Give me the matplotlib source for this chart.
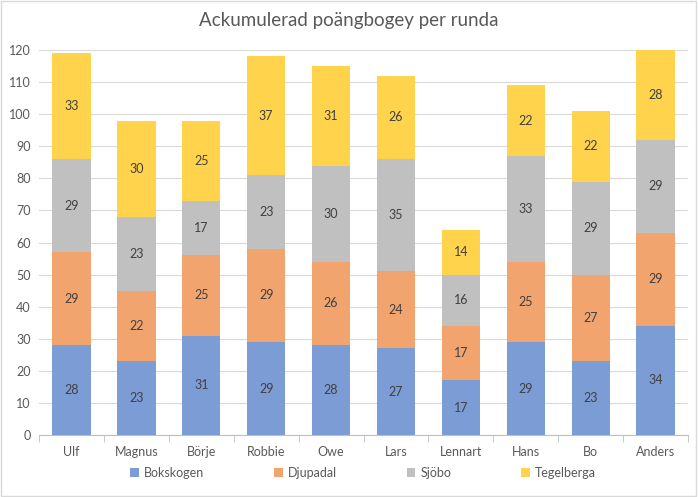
import matplotlib
matplotlib.use("Agg")
import matplotlib.pyplot as plt
import numpy as np
from matplotlib.patches import Rectangle

plt.rcParams['font.family'] = ['Lato', 'DejaVu Sans']

players = ["Ulf", "Magnus", "Börje", "Robbie", "Owe", "Lars", "Lennart", "Hans", "Bo", "Anders"]
bokskogen = [28, 23, 31, 29, 28, 27, 17, 29, 23, 34]
djupadal = [29, 22, 25, 29, 26, 24, 17, 25, 27, 29]
sjobo = [29, 23, 17, 23, 30, 35, 16, 33, 29, 29]
tegelberga = [33, 30, 25, 37, 31, 26, 14, 22, 22, 28]
series_names = ["Bokskogen", "Djupadal", "Sjöbo", "Tegelberga"]
yticks = list(range(0, 121, 10))
title = "Ackumulerad poängbogey per runda"

colors = ["#7C9CD5", "#F2A46F", "#C0C0C0", "#FFD34C"]

fig = plt.figure(figsize=(6.98, 4.97), dpi=100)
ax = fig.add_axes([0.0559, 0.1247, 0.9298, 0.7747])

x = np.arange(len(players))
bottom = np.zeros(len(players))
for name, vals, c in zip(series_names, [bokskogen, djupadal, sjobo, tegelberga], colors):
    v = np.array(vals, dtype=float)
    bars = ax.bar(x, v, 0.59, bottom=bottom, color=c, label=name, zorder=3)
    for xi, b, vi in zip(x, bottom, v):
        ax.text(xi, b + vi / 2, f"{int(vi)}", ha="center", va="center",
                fontsize=9, color="#404040", zorder=4)
    bottom += v

ax.set_xlim(-0.5, len(players) - 0.5)
ax.set_ylim(0, 120)
ax.set_yticks(yticks)
ax.set_xticks(x)
ax.set_xticklabels(players)
ax.grid(axis="y", color="#D9D9D9", linewidth=0.8, zorder=0)
for s in ["top", "right", "left"]:
    ax.spines[s].set_visible(False)
ax.spines["bottom"].set_color("#BFBFBF")
ax.tick_params(axis="y", length=0, labelsize=9, labelcolor="#595959", pad=6)
ax.tick_params(axis="x", length=0, labelsize=9, labelcolor="#595959", pad=8)
# minor ticks between categories (Excel style)
ax.set_xticks(np.arange(-0.5, len(players), 1.0), minor=True)
ax.tick_params(axis="x", which="minor", length=5, color="#BFBFBF", direction="out")

fig.text(0.5, 0.958, title, ha="center", va="center", fontsize=13.5, color="#595959")

leg = fig.legend(loc="center", bbox_to_anchor=(0.52, 0.048), ncol=4, frameon=False,
                 fontsize=9, handlelength=0.7, handleheight=0.7, columnspacing=5.6,
                 handletextpad=0.4)
for t in leg.get_texts():
    t.set_color("#595959")

fig.patches.append(Rectangle((0.002, 0.003), 0.995, 0.994, transform=fig.transFigure,
                             fill=False, edgecolor="#D9D9D9", linewidth=1.0))

fig.savefig("out.png", dpi=100)
